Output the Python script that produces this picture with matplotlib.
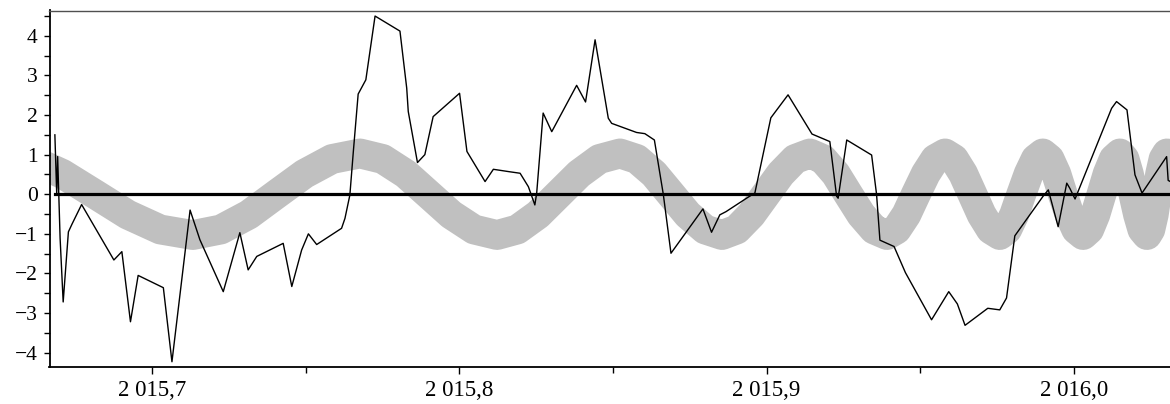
import matplotlib
matplotlib.use("Agg")
import matplotlib.pyplot as plt
from matplotlib.ticker import MultipleLocator, FuncFormatter

# ---- data ----
data_x = [2015.6684, 2015.6690, 2015.6693, 2015.6701, 2015.6711, 2015.6728, 2015.6740, 2015.6771,
          2015.6876, 2015.6902, 2015.6930, 2015.6955, 2015.7037, 2015.7065, 2015.7124, 2015.7156,
          2015.7232, 2015.7286, 2015.7313, 2015.7341, 2015.7427, 2015.7455, 2015.7487, 2015.7509,
          2015.7536, 2015.7617, 2015.7628, 2015.7644, 2015.7655, 2015.7671, 2015.7696, 2015.7726,
          2015.7807, 2015.7829, 2015.7834, 2015.7864, 2015.7888, 2015.7915, 2015.8001, 2015.8025,
          2015.8084, 2015.8111, 2015.8162, 2015.8198, 2015.8225, 2015.8246, 2015.8252, 2015.8273,
          2015.8301, 2015.8382, 2015.8411, 2015.8442, 2015.8485, 2015.8496, 2015.8577, 2015.8604,
          2015.8635, 2015.8664, 2015.8689, 2015.8793, 2015.8821, 2015.8848, 2015.8868, 2015.8939,
          2015.8962, 2015.9014, 2015.9070, 2015.9148, 2015.9206, 2015.9228, 2015.9233, 2015.9261,
          2015.9342, 2015.9358, 2015.9369, 2015.9415, 2015.9452, 2015.9537, 2015.9593, 2015.9621,
          2015.9646, 2015.9720, 2015.9759, 2015.9781, 2015.9808, 2015.9900, 2015.9917, 2015.9949,
          2015.9977, 2015.9987, 2016.0004, 2016.0123, 2016.0139, 2016.0173, 2016.0199, 2016.0222,
          2016.0302, 2016.0307, 2016.0319]
data_y = [1.50, 0.00, 0.95, -1.11, -2.72, -0.95, -0.75, -0.26,
          -1.66, -1.45, -3.22, -2.05, -2.36, -4.23, -0.40, -1.15,
          -2.46, -0.97, -1.91, -1.57, -1.24, -2.33, -1.41, -1.00,
          -1.27, -0.86, -0.61, -0.02, 1.05, 2.53, 2.89, 4.50,
          4.12, 2.68, 2.09, 0.80, 1.00, 1.96, 2.55, 1.08,
          0.32, 0.63, 0.57, 0.53, 0.19, -0.27, 0.03, 2.05,
          1.58, 2.75, 2.33, 3.90, 1.92, 1.79, 1.56, 1.53,
          1.37, 0.00, -1.49, -0.37, -0.96, -0.52, -0.44, -0.08,
          0.03, 1.93, 2.51, 1.52, 1.33, -0.05, -0.10, 1.37,
          0.99, 0.00, -1.16, -1.32, -1.98, -3.17, -2.46, -2.77,
          -3.31, -2.88, -2.92, -2.62, -1.05, -0.05, 0.11, -0.82,
          0.28, 0.15, -0.12, 2.17, 2.34, 2.13, 0.49, 0.03,
          0.95, 0.35, 0.30]

gray_x = [2015.6602, 2015.6708, 2015.6815, 2015.6921, 2015.7027, 2015.7133,
          2015.7224, 2015.7315, 2015.7405, 2015.7496, 2015.7586, 2015.7677,
          2015.7751, 2015.7826, 2015.7900, 2015.7974, 2015.8048, 2015.8123,
          2015.8189, 2015.8256, 2015.8323, 2015.8390, 2015.8456, 2015.8523,
          2015.8578, 2015.8634, 2015.8689, 2015.8744, 2015.8800, 2015.8855,
          2015.8903, 2015.8950, 2015.8998, 2015.9046, 2015.9093, 2015.9141,
          2015.9183, 2015.9225, 2015.9266, 2015.9308, 2015.9350, 2015.9392,
          2015.9423, 2015.9455, 2015.9486, 2015.9518, 2015.9549, 2015.9581,
          2015.9610, 2015.9640, 2015.9670, 2015.9700, 2015.9730, 2015.9759,
          2015.9783, 2015.9806, 2015.9829, 2015.9853, 2015.9876, 2015.9899,
          2015.9921, 2015.9943, 2015.9964, 2015.9986, 2016.0008, 2016.0030,
          2016.0050, 2016.0070, 2016.0090, 2016.0110, 2016.0130, 2016.0150,
          2016.0165, 2016.0179, 2016.0194, 2016.0209, 2016.0223, 2016.0238,
          2016.0249, 2016.0260, 2016.0270, 2016.0281, 2016.0292, 2016.0303,
          2016.0312, 2016.0320, 2016.0329]
gray_y = [0.89, 0.515, 0.0, -0.515, -0.89, -1.03,
          -0.89, -0.515, 0.0, 0.515, 0.89, 1.03,
          0.89, 0.515, 0.0, -0.515, -0.89, -1.03,
          -0.89, -0.515, 0.0, 0.515, 0.89, 1.03,
          0.89, 0.515, 0.0, -0.515, -0.89, -1.03,
          -0.89, -0.515, 0.0, 0.515, 0.89, 1.03,
          0.89, 0.515, 0.0, -0.515, -0.89, -1.03,
          -0.89, -0.515, 0.0, 0.515, 0.89, 1.03,
          0.89, 0.515, 0.0, -0.515, -0.89, -1.03,
          -0.89, -0.515, 0.0, 0.515, 0.89, 1.03,
          0.89, 0.515, 0.0, -0.515, -0.89, -1.03,
          -0.89, -0.515, 0.0, 0.515, 0.89, 1.03,
          0.89, 0.515, 0.0, -0.515, -0.89, -1.03,
          -0.89, -0.515, 0.0, 0.515, 0.89, 1.03,
          0.89, 0.515, 0.0]

x_limits = (2015.66665, 2016.0313)
y_limits = (-4.35, 4.64)

# ---- figure ----
W, H = 1170, 404
fig = plt.figure(figsize=(W / 100, H / 100), dpi=100)
ax = fig.add_axes([49.5 / W, 37.5 / H, 1 - 49.5 / W, 356 / H])

ax.plot(gray_x, gray_y, color="#c0c0c0", linewidth=21.5, solid_joinstyle="round",
        solid_capstyle="butt", zorder=1)
ax.plot([data_x[0], data_x[-1]], [0, 0], color="black", linewidth=2.3, zorder=2)
ax.plot(data_x, data_y, color="black", linewidth=1.0, zorder=3)

ax.set_xlim(*x_limits)
ax.set_ylim(*y_limits)

ax.xaxis.set_major_locator(MultipleLocator(0.1))
ax.xaxis.set_minor_locator(MultipleLocator(0.05))
ax.yaxis.set_major_locator(MultipleLocator(1))
ax.yaxis.set_minor_locator(MultipleLocator(0.5))


def xfmt(v, p):
    s = f"{v:.1f}"
    ip, dp = s.split(".")
    ip = f"{int(ip):,}".replace(",", " ")
    return ip + "," + dp


def yfmt(v, p):
    return f"{int(round(v))}".replace("-", "\u2212")


ax.xaxis.set_major_formatter(FuncFormatter(xfmt))
ax.yaxis.set_major_formatter(FuncFormatter(yfmt))

ax.tick_params(axis="x", which="major", direction="out", length=5, width=1.0, pad=4.5,
               labelsize=16.5, colors="black")
ax.tick_params(axis="x", which="minor", direction="out", length=4, width=1.0)
ax.tick_params(axis="y", which="major", direction="out", length=4.5, width=1.0, pad=4,
               labelsize=15.5)
ax.tick_params(axis="y", which="minor", direction="out", length=4, width=1.0)
for lab in ax.get_xticklabels() + ax.get_yticklabels():
    lab.set_fontfamily("Liberation Serif")

ax.spines["right"].set_visible(False)
ax.spines["top"].set_linewidth(1.0)
ax.spines["top"].set_color("#505050")
ax.spines["left"].set_linewidth(1.3)
ax.spines["bottom"].set_linewidth(1.3)

fig.savefig("out.png", dpi=100)
